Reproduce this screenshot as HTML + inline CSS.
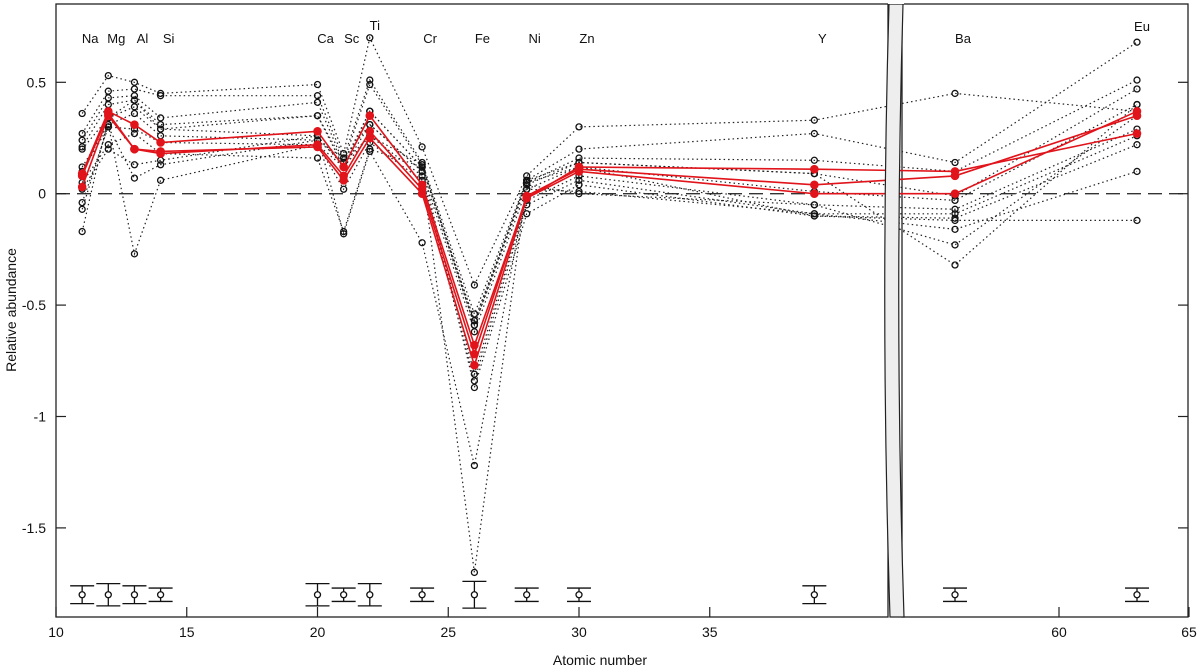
<!DOCTYPE html>
<html><head><meta charset="utf-8"><style>
body{margin:0;background:#fff;}
svg{display:block;font-family:"Liberation Sans",sans-serif;}
</style></head><body>
<svg id="c" width="1200" height="670" xmlns="http://www.w3.org/2000/svg"></svg>
<script>
const elements=["Na","Mg","Al","Si","Ca","Sc","Ti","Cr","Fe","Ni","Zn","Y","Ba","Eu"];
const atomicNumbers=[11,12,13,14,20,21,22,24,26,28,30,39,56,63];
const dottedSeries=[
[0.36,0.53,0.50,0.45,0.49,0.18,0.70,0.21,-0.41,0.08,0.30,0.33,0.45,0.37],
[0.27,0.46,0.47,0.44,0.44,0.16,0.51,0.14,-0.54,0.06,0.20,0.27,0.14,0.68],
[0.24,0.43,0.44,0.34,0.41,0.14,0.49,0.13,-0.57,0.05,0.16,0.15,0.10,0.51],
[0.21,0.40,0.42,0.31,0.35,0.12,0.37,0.12,-0.59,0.04,0.14,0.09,-0.01,0.47],
[0.20,0.34,0.39,0.29,0.26,0.12,0.31,0.10,-0.62,0.02,0.12,0.01,-0.03,0.40],
[0.12,0.31,0.36,0.26,0.24,0.14,0.26,0.08,-0.81,-0.03,0.08,-0.05,-0.07,0.29],
[0.10,0.30,0.29,0.23,0.22,0.02,0.23,0.06,-0.84,-0.05,0.06,-0.09,-0.09,0.26],
[0.05,0.22,0.27,0.18,0.16,-0.17,0.20,0.12,-0.87,-0.09,0.04,-0.10,-0.11,0.22],
[0.02,0.20,0.13,0.15,0.26,-0.18,0.19,-0.22,-1.22,0.02,0.01,-0.09,-0.16,0.10],
[-0.04,0.30,0.07,0.13,0.24,0.16,0.31,0.10,-1.70,0.04,0.00,-0.05,-0.23,0.35],
[-0.07,0.31,-0.27,0.06,0.22,0.12,0.26,0.13,-0.59,0.06,0.14,0.09,-0.32,0.40],
[-0.17,0.34,0.42,0.29,0.35,0.14,0.37,0.12,-0.57,0.05,0.12,-0.10,-0.12,-0.12]];
const redSeries=[
[0.09,0.37,0.31,0.23,0.28,0.12,0.35,0.04,-0.68,-0.02,0.12,0.11,0.10,0.27],
[0.03,0.35,0.20,0.19,0.21,0.06,0.25,0.00,-0.77,-0.02,0.10,0.00,0.00,0.37],
[0.08,0.36,0.20,0.18,0.22,0.08,0.28,0.02,-0.72,-0.01,0.11,0.04,0.08,0.35]];
const errHalf=[0.04,0.05,0.04,0.03,0.05,0.03,0.05,0.03,0.06,0.03,0.03,0.04,0.03,0.03];
const errCenter=-1.8;
const yTicks=[0.5,0,-0.5,-1,-1.5];
const yTickLabels=["0.5","0","-0.5","-1","-1.5"];
const xTicksLeft=[10,15,20,25,30,35];
const xTicksRight=[60,65];

const NS="http://www.w3.org/2000/svg";
const svg=document.getElementById('c');
const TOP=4,BOT=617,L1=56,R1=888,L2=902,R2=1188;
function y(v){return 193.7-v*222.8;}
function x(z){return z<50?56+(z-10)*26.15:955+(z-56)*26;}
function mk(tag,attrs,parent){const e=document.createElementNS(NS,tag);for(const k in attrs)e.setAttribute(k,attrs[k]);(parent||svg).appendChild(e);return e;}

// frames
const f1=mk('rect',{x:L1,y:TOP,width:R1-L1,height:BOT-TOP,fill:'none',stroke:'#222','stroke-width':1.3});


const f2=mk('rect',{x:L2,y:TOP,width:R2-L2,height:BOT-TOP,fill:'none',stroke:'#222','stroke-width':1.3});



// zero line
const zl=mk('line',{x1:L1,x2:R2,y1:y(0),y2:y(0),stroke:'#333','stroke-width':1.3,'stroke-dasharray':'14,7'});



// y ticks
yTicks.forEach((v,i)=>{
  const t=mk('line',{x1:L1,x2:L1+10,y1:y(v),y2:y(v),stroke:'#222','stroke-width':1.2});
  
  
  const t2=mk('line',{x1:R2-10,x2:R2,y1:y(v),y2:y(v),stroke:'#222','stroke-width':1.2});
  
  
  const lb=mk('text',{x:L1-10,y:y(v)+5,'text-anchor':'end','font-size':14,fill:'#111'});
  lb.textContent=yTickLabels[i];
  
  
});
xTicksLeft.concat(xTicksRight).forEach(z=>{
  const px=x(z);
  const t=mk('line',{x1:px,x2:px,y1:BOT,y2:BOT-10,stroke:'#222','stroke-width':1.2});
  
  
  const lb=mk('text',{x:px,y:BOT+20,'text-anchor':'middle','font-size':14,fill:'#111'});
  lb.textContent=String(z);
  
  
});

// clip for data
const defs=mk('defs',{});
const cp=mk('clipPath',{id:'clip'},defs);
mk('rect',{x:L1,y:TOP,width:R2-L1,height:BOT-TOP},cp);
const g=mk('g',{'clip-path':'url(#clip)'});



function path(vals){return vals.map((v,i)=>(i?'L':'M')+x(atomicNumbers[i]).toFixed(1)+','+y(v).toFixed(1)).join(' ');}
dottedSeries.forEach((s,k)=>{
  const p=mk('path',{d:path(s),fill:'none',stroke:'#222','stroke-width':1.2,'stroke-dasharray':'1.5,3'},g);
  
  
  s.forEach((v,i)=>{
    const c=mk('circle',{cx:x(atomicNumbers[i]),cy:y(v),r:3,fill:'none',stroke:'#111','stroke-width':1.3},g);
    
    
  });
});
redSeries.forEach(s=>{
  const p=mk('path',{d:path(s),fill:'none',stroke:'#e0141a','stroke-width':1.6},g);
  
  
  s.forEach((v,i)=>{
    const c=mk('circle',{cx:x(atomicNumbers[i]),cy:y(v),r:3.8,fill:'#e0141a',stroke:'#e0141a','stroke-width':1},g);
    
    
  });
});

// error bars
atomicNumbers.forEach((z,i)=>{
  const px=x(z),y1=y(errCenter+errHalf[i]),y2=y(errCenter-errHalf[i]);
  const eg=mk('g',{stroke:'#111','stroke-width':1.3,fill:'none'});
  
  
  mk('line',{x1:px,x2:px,y1:y1,y2:y2},eg);
  mk('line',{x1:px-12,x2:px+12,y1:y1,y2:y1},eg);
  mk('line',{x1:px-12,x2:px+12,y1:y2,y2:y2},eg);
  mk('circle',{cx:px,cy:y(errCenter),r:3,fill:'#fff'},eg);
});

// axis break band
const br=mk('path',{d:`M889,${TOP} Q880,310 890,${BOT} L904,${BOT} Q894,310 903,${TOP} Z`,fill:'#eee',stroke:'#222','stroke-width':1.2});


const wb=mk('rect',{x:888,y:0,width:16,height:TOP,fill:'#fff'});
const wb2=mk('rect',{x:888,y:BOT+1,width:16,height:12,fill:'#fff'});

// element labels
elements.forEach((e,i)=>{
  const t=mk('text',{x:x(atomicNumbers[i])+8,y:e==='Ti'?30:e==='Eu'?31:43,'text-anchor':'middle','font-size':13,fill:'#111'});
  if(e==='Ti'||e==='Eu')t.setAttribute('x',x(atomicNumbers[i])+5);
  t.textContent=e;
  
  
});

const xt=mk('text',{x:600,y:665,'text-anchor':'middle','font-size':14,fill:'#111'});
xt.textContent='Atomic number';


const yt=mk('text',{x:16,y:310,'text-anchor':'middle','font-size':14,fill:'#111',transform:'rotate(-90 16 310)'});
yt.textContent='Relative abundance';


</script>
</body></html>
